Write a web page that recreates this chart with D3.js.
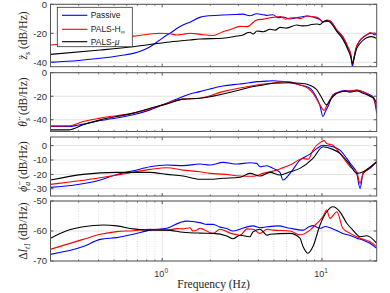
<!DOCTYPE html>
<html>
<head>
<meta charset="utf-8">
<script src="https://cdn.jsdelivr.net/npm/d3@7"></script>
<style>
body { margin: 0; background: #fff; }
svg { display: block; }
.serif { font-family: "Liberation Serif", "Times New Roman", serif; font-weight: normal; }
.sans { font-family: "Liberation Sans", Arial, sans-serif; }
</style>
</head>
<body>
<svg id="chart" width="390" height="293"></svg>
<script>
// ---- data: [frequency Hz, dB/Hz] ----
var seriesNames = ["Passive", "PALS-H", "PALS-"];
var seriesColors = ["#0000ff", "#ff0000", "#000000"];

var zsPassive = [[0.2,-40],[0.3,-38.7],[0.41,-37.2],[0.55,-35.3],[0.66,-33.8],[0.75,-31.8],[0.84,-29.2],[0.97,-24.5],[1.07,-21.2],[1.12,-20],[1.24,-16.5],[1.35,-14.3],[1.49,-12.3],[1.72,-9.0],[1.9,-8.1],[2.4,-7.4],[2.9,-7.0],[3.2,-6.8],[3.54,-7.9],[3.9,-6.5],[4.2,-7.0],[4.5,-7.6],[4.94,-7.2],[5.3,-9.2],[5.7,-8.8],[6.3,-10.1],[6.95,-9.2],[7.5,-8.6],[8.06,-8.1],[8.78,-8.8],[9.7,-10.5],[10.15,-12.2],[11.2,-11.6],[12.4,-18],[13.5,-22.6],[14.5,-29.5],[15.2,-36],[15.5,-43],[15.8,-38],[16.3,-31],[17.3,-25],[18.2,-22.5],[19.05,-21],[20.5,-19.8],[21.2,-21],[22,-20.8]];
var zsHinf = [[0.2,-28.1],[0.3,-26],[0.41,-24.1],[0.66,-21.9],[0.97,-20],[1.12,-20.3],[1.24,-21.2],[1.35,-20.6],[1.49,-20],[1.72,-20.7],[2.08,-21.5],[2.4,-18.9],[2.7,-17.2],[3.07,-15.2],[3.4,-15.4],[3.9,-10.8],[4.3,-10.2],[4.94,-9.0],[5.5,-8.5],[5.9,-10.3],[6.3,-9.4],[6.95,-9.2],[7.3,-9.9],[8.06,-8.1],[8.78,-8.6],[9.3,-8.9],[9.7,-10.3],[10.15,-12.0],[10.7,-10.8],[11.2,-11.3],[12.4,-17.7],[13.5,-22.3],[14.5,-29.2],[15.2,-35],[15.5,-41],[15.9,-36],[16.3,-30.3],[17.3,-24.6],[18.2,-22.5],[19.05,-21.2],[20,-19.5],[20.5,-20],[21.3,-19.8],[22,-21.2]];
var zsMu = [[0.2,-34.5],[0.41,-31.5],[0.66,-29.2],[1.07,-26.2],[1.49,-24.6],[1.72,-23.9],[2.4,-23.4],[2.94,-21.9],[3.2,-21.2],[3.4,-19.6],[3.54,-19.3],[3.7,-20.5],[3.92,-18.4],[4.3,-18.9],[4.73,-17.2],[5.1,-17.8],[5.46,-15.9],[6.0,-16.4],[6.95,-14.3],[7.5,-14.9],[8.06,-14.8],[8.6,-13.9],[9.3,-13.6],[9.7,-14],[10.15,-12.2],[10.7,-11.2],[11.2,-12.3],[12.4,-18.8],[13.5,-24],[14.5,-31],[15.2,-37],[15.5,-41],[15.9,-37],[16.3,-32],[17.3,-27],[18.2,-24.5],[19.05,-23],[20.5,-22.3],[22,-23.5]];

var thPassive = [[0.2,-45.8],[0.26,-45.8],[0.3,-44.5],[0.41,-40.7],[0.66,-35.8],[0.84,-31.6],[1.07,-25.9],[1.35,-20.3],[1.49,-18.1],[1.72,-16.1],[1.99,-13.8],[2.4,-11.3],[3.07,-9.6],[3.5,-8.6],[3.92,-7.6],[4.5,-7.2],[4.94,-6.8],[5.5,-7.3],[6.31,-8.5],[7.28,-10.4],[8.41,-13.2],[9.17,-20.3],[9.72,-28.2],[10.15,-37.3],[10.5,-33],[10.9,-28.8],[11.7,-18.9],[12.96,-16.1],[14,-15.2],[15,-15.5],[16.5,-14.7],[18.1,-16.4],[19.95,-18.8],[21,-21],[22,-34.4]];
var thHinf = [[0.2,-45.2],[0.26,-45.2],[0.32,-41.5],[0.41,-38.6],[0.66,-34.4],[0.84,-30.8],[1.07,-25.9],[1.35,-22.5],[1.72,-21.7],[2.4,-16.1],[3.0,-13.2],[3.92,-10.4],[4.9,-8.8],[5.5,-8.0],[6.0,-7.6],[6.31,-7.8],[7.28,-10.4],[8.0,-12.5],[8.78,-17.5],[9.72,-27.4],[10.3,-32.2],[10.7,-28],[11.2,-23.1],[11.7,-19.5],[12.96,-16.4],[14,-15.5],[15,-15.6],[16.5,-14.9],[18.1,-16.2],[19.95,-19.5],[21,-22],[22,-30]];
var thMu = [[0.2,-48.6],[0.26,-48.6],[0.32,-44.3],[0.41,-40.1],[0.66,-34.4],[0.84,-30.2],[1.07,-26.5],[1.35,-22.5],[1.72,-21.7],[2.4,-18.1],[3.0,-15],[3.54,-12.4],[4.2,-10.6],[4.94,-9.0],[6.31,-8.5],[7.3,-9.0],[8.06,-9.8],[8.8,-12],[9.31,-14.7],[9.86,-20.3],[10.7,-27.4],[11.2,-24],[11.7,-20.3],[12.96,-16.4],[14,-15.8],[15,-16.5],[16.5,-15.6],[18.1,-17.5],[19.95,-20],[21,-21.5],[22,-25.9]];

var phPassive = [[0.2,-29],[0.41,-23.9],[0.52,-20],[0.66,-17.5],[0.84,-14.7],[1.07,-13.5],[1.35,-13.9],[1.72,-12.8],[1.99,-13.5],[2.4,-11.6],[2.94,-12.8],[3.54,-11.9],[3.9,-12.3],[4.09,-14.7],[4.5,-14],[4.94,-15.8],[5.46,-18.6],[5.7,-23.9],[6.31,-19.3],[7.28,-10],[8.41,-5.9],[9.31,-1.9],[10.15,0.3],[11.7,-0.8],[12.96,-3.1],[15.0,-12.3],[16.5,-19.3],[17.3,-29.7],[18.1,-19.3],[19.95,-15.8],[22,-11.2]];
var phHinf = [[0.2,-26.9],[0.41,-22.3],[0.55,-20],[0.84,-16.5],[1.07,-15.4],[1.35,-17],[1.72,-18.2],[1.99,-19.3],[2.4,-19.8],[3.07,-21.1],[3.7,-21.3],[4.27,-19.3],[4.94,-17.7],[5.5,-16],[6.31,-13.5],[7.61,-8.9],[8.2,-9.5],[8.78,-3.1],[9.86,2.6],[10.3,3.5],[10.7,1.5],[11.7,0.3],[12.96,-5.4],[15.0,-14.7],[16.5,-18.2],[17.3,-26.2],[18.1,-19.3],[19.95,-15.5],[22,-11.2]];
var phMu = [[0.2,-23.9],[0.32,-20],[0.52,-18.6],[0.84,-18.6],[1.07,-20],[1.35,-21.1],[1.72,-23.4],[1.99,-23.4],[2.4,-22.7],[3.07,-22],[3.54,-19.3],[4.09,-21.1],[4.73,-18.6],[5.46,-20.4],[6.31,-18.2],[7.28,-15.8],[8.78,-8.9],[10.15,-0.8],[11.7,-2.6],[12.96,-5.4],[15.0,-13.5],[16.5,-19.3],[18.1,-18.2],[19.95,-15],[22,-11.2]];

var dlPassive = [[0.2,-67.8],[0.32,-65.2],[0.41,-62.8],[0.52,-62.2],[0.66,-61.1],[0.84,-59.7],[1.07,-59.1],[1.29,-57.2],[1.43,-56.7],[1.72,-57.2],[1.91,-57.8],[2.08,-57.8],[2.3,-58.7],[2.54,-59.2],[2.77,-60],[3.07,-59.4],[3.7,-58.3],[4.09,-58.9],[4.53,-58.6],[5.3,-58.3],[6.31,-59.1],[7.61,-59.7],[8.3,-58.6],[8.78,-58.2],[9.72,-59.1],[10.5,-58.5],[11.7,-59.3],[13.5,-60.8],[15,-61.5],[16.5,-62.4],[18,-63],[19.95,-64.1],[22,-65.8]];
var dlHinf = [[0.2,-66.1],[0.32,-62.8],[0.41,-61.1],[0.52,-60.2],[0.66,-59.9],[0.84,-59.4],[1.07,-59.7],[1.24,-59.2],[1.35,-59.3],[1.49,-58.9],[1.56,-60],[1.65,-59.7],[1.72,-59.1],[1.8,-59.4],[2.08,-60.8],[2.3,-59.4],[2.66,-60.7],[3.07,-61.4],[3.4,-59.3],[3.7,-59.4],[4.09,-60.8],[4.53,-59.4],[4.94,-59.7],[6.31,-60],[7.28,-61.3],[8.41,-59.7],[9.31,-57.4],[10.15,-55.2],[10.7,-53],[11.2,-55.8],[12.4,-53.6],[13.5,-59.1],[15,-60.8],[17.3,-62.4],[19.95,-63.6],[22,-65.2]];
var dlMu = [[0.2,-62.4],[0.25,-60],[0.32,-58.6],[0.43,-58],[0.52,-58.3],[0.66,-59.3],[0.84,-59.7],[1.07,-59.7],[1.35,-60.4],[1.72,-60.7],[2.08,-60.8],[2.54,-61.7],[2.77,-62.6],[3.07,-61.4],[3.54,-61.9],[3.7,-60.3],[4.09,-59.4],[4.53,-61.4],[4.73,-61.1],[6.31,-60.8],[7.28,-62.4],[7.61,-65.2],[8.17,-67.4],[8.78,-65.2],[9.72,-58],[10.7,-53.6],[11.7,-51.9],[12.96,-53.6],[14.3,-57.4],[15.6,-59.7],[17.3,-61.9],[19.1,-61.6],[22,-64.1]];

var yTicks = [[-40, -20, 0], [-40, -20, 0], [-30, -20, -10, 0], [-70, -60, -50]];
var yDomains = [[-43, 0], [-50, 0], [-35, 6], [-70, -50]];
var xDomain = [0.2, 22];
var xMajor = [1, 10];
var xMinor = [0.2, 0.3, 0.4, 0.5, 0.6, 0.7, 0.8, 0.9, 2, 3, 4, 5, 6, 7, 8, 9, 20];

var panelData = [
    [zsPassive, zsHinf, zsMu],
    [thPassive, thHinf, thMu],
    [phPassive, phHinf, phMu],
    [dlPassive, dlHinf, dlMu]
];

// ---- layout ----
var svg = d3.select("#chart");
var xLeft = 50.5, xRight = 376.7;
var tops = [4.3, 72.7, 137, 201];
var bottoms = [66.7, 131.5, 196, 261];
var axisColor = "#555";

var x = d3.scaleLog().domain(xDomain).range([xLeft, xRight]);

var line = d3.line()
    .x(d => x(d[0]))
    .curve(d3.curveMonotoneX);

panelData.forEach(function(series, p) {
    var y = d3.scaleLinear().domain(yDomains[p]).range([bottoms[p], tops[p]]);
    var g = svg.append("g");

    g.append("clipPath").attr("id", "clip" + p)
        .append("rect")
        .attr("x", xLeft).attr("y", tops[p])
        .attr("width", xRight - xLeft).attr("height", bottoms[p] - tops[p]);

    // horizontal grid
    g.selectAll(".hgrid").data(yTicks[p]).enter()
        .append("line")
        .attr("x1", xLeft).attr("x2", xRight)
        .attr("y1", d => y(d)).attr("y2", d => y(d))
        .attr("stroke", "#e2e2e2").attr("stroke-width", 1);

    // vertical grid only on the bottom panel
    if (p == 3) {
        g.selectAll(".vminor").data(xMinor).enter()
            .append("line")
            .attr("x1", d => x(d)).attr("x2", d => x(d))
            .attr("y1", tops[p]).attr("y2", bottoms[p])
            .attr("stroke", "#d4d4d4").attr("stroke-width", 0.8)
            .attr("stroke-dasharray", "1,1.5");
        g.selectAll(".vmajor").data(xMajor).enter()
            .append("line")
            .attr("x1", d => x(d)).attr("x2", d => x(d))
            .attr("y1", tops[p]).attr("y2", bottoms[p])
            .attr("stroke", "#e2e2e2").attr("stroke-width", 1);
    }

    line.y(d => y(d[1]));
    g.append("g").attr("clip-path", "url(#clip" + p + ")")
        .selectAll("path").data(series).enter()
        .append("path")
        .attr("d", line)
        .attr("fill", "none")
        .attr("stroke", (d, i) => seriesColors[i])
        .attr("stroke-width", 1.1)
        .attr("stroke-linejoin", "round");

    // box
    g.append("rect")
        .attr("x", xLeft).attr("y", tops[p])
        .attr("width", xRight - xLeft).attr("height", bottoms[p] - tops[p])
        .attr("fill", "none").attr("stroke", axisColor).attr("stroke-width", 1);

    // y ticks, both sides, inward
    yTicks[p].forEach(function(t) {
        g.append("line").attr("x1", xLeft).attr("x2", xLeft + 3)
            .attr("y1", y(t)).attr("y2", y(t)).attr("stroke", axisColor);
        g.append("line").attr("x1", xRight).attr("x2", xRight - 3)
            .attr("y1", y(t)).attr("y2", y(t)).attr("stroke", axisColor);
        g.append("text")
            .attr("class", "sans")
            .attr("x", 47).attr("y", y(t)).attr("dy", "0.36em")
            .attr("text-anchor", "end")
            .style("font-size", "9.5px")
            .style("fill", "#333")
            .text(t);
    });

    // x ticks top and bottom, inward
    xMajor.forEach(function(t) {
        g.append("line").attr("x1", x(t)).attr("x2", x(t))
            .attr("y1", bottoms[p]).attr("y2", bottoms[p] - 3).attr("stroke", axisColor);
        g.append("line").attr("x1", x(t)).attr("x2", x(t))
            .attr("y1", tops[p]).attr("y2", tops[p] + 3).attr("stroke", axisColor);
    });
    xMinor.forEach(function(t) {
        g.append("line").attr("x1", x(t)).attr("x2", x(t))
            .attr("y1", bottoms[p]).attr("y2", bottoms[p] - 1.6).attr("stroke", axisColor).attr("stroke-width", 0.8);
        g.append("line").attr("x1", x(t)).attr("x2", x(t))
            .attr("y1", tops[p]).attr("y2", tops[p] + 1.6).attr("stroke", axisColor).attr("stroke-width", 0.8);
    });

    // y label
    var lab = g.append("text")
        .attr("class", "serif")
        .attr("transform", "translate(27," + ((tops[p] + bottoms[p]) / 2) + ") rotate(-90)")
        .attr("text-anchor", "middle")
        .style("font-size", "11.5px").style("fill", "#222");
    var sym = ["z\u0308", "\u03B8\u0308", "\u03D5\u0308", null][p];
    var sub = ["s", "s", "a", "t1"][p];
    if (sym) {
        lab.append("tspan").style("font-style", "italic").text(sym);
    } else {
        lab.append("tspan").text("\u0394");
        lab.append("tspan").style("font-style", "italic").text("l");
    }
    lab.append("tspan").style("font-style", "italic").style("font-size", "8px")
        .attr("dy", 2.5).text(sub);
    lab.append("tspan").attr("dy", -2.5).text(" (dB/Hz)");
});

// x tick labels on the bottom panel
xMajor.forEach(function(t) {
    var lbl = svg.append("text")
        .attr("class", "sans")
        .attr("x", x(t) - 1).attr("y", 277)
        .attr("text-anchor", "middle")
        .style("font-size", "9px").style("fill", "#333");
    lbl.append("tspan").text("10");
    lbl.append("tspan").attr("dy", -4).style("font-size", "6.5px").text(Math.round(Math.log10(t)));
});

svg.append("text")
    .attr("class", "serif")
    .attr("x", (xLeft + xRight) / 2).attr("y", 288)
    .attr("text-anchor", "middle")
    .style("font-size", "11.5px").style("fill", "#222")
    .text("Frequency (Hz)");

// legend
var legY = [15.3, 29.3, 41.7];
var leg = svg.append("g");
leg.append("rect")
    .attr("x", 57.3).attr("y", 7.3).attr("width", 75).attr("height", 39.4)
    .attr("fill", "#fff").attr("stroke", "#333").attr("stroke-width", 0.8);
seriesNames.forEach(function(name, i) {
    leg.append("line")
        .attr("x1", 62).attr("x2", 87.3)
        .attr("y1", legY[i]).attr("y2", legY[i])
        .attr("stroke", seriesColors[i]).attr("stroke-width", 1.1);
    var t = leg.append("text")
        .attr("class", "sans")
        .attr("x", 90.7).attr("y", legY[i]).attr("dy", "0.35em")
        .style("font-size", "8.5px").style("fill", "#222")
        .text(name);
    if (i == 1) t.append("tspan").attr("dy", 2).style("font-size", "6px").text("\u221E");
    if (i == 2) t.append("tspan").style("font-style", "italic").text("\u03BC");
});
</script>
</body>
</html>
